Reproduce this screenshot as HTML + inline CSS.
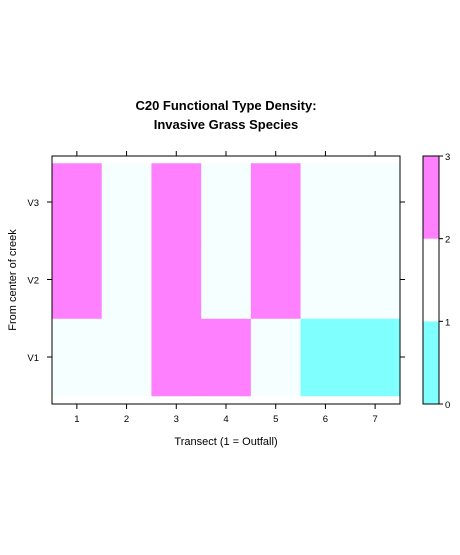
<!DOCTYPE html>
<html><head><meta charset="utf-8"><style>
body{margin:0;background:#fff;width:460px;height:550px;overflow:hidden}
text{font-family:"Liberation Sans",Arial,sans-serif}
</style></head><body>
<svg width="460" height="550">
<text x="226" y="110" text-anchor="middle" font-size="13" font-weight="bold">C20 Functional Type Density:</text>
<text x="226" y="129" text-anchor="middle" font-size="13" font-weight="bold">Invasive Grass Species</text>
<g id="cells"></g>
<g id="axes"></g>
<text x="226" y="445" text-anchor="middle" font-size="11">Transect (1 = Outfall)</text>
<text transform="translate(16,280) rotate(-90)" text-anchor="middle" font-size="11">From center of creek</text>
</svg>
<script>
const xCats=["1","2","3","4","5","6","7"];
const yCats=["V1","V2","V3"];
const rowV1=[1.5,1.5,2.5,2.5,1.5,0.5,0.5];
const rowV2=[2.5,1.5,2.5,1.5,2.5,1.5,1.5];
const rowV3=[2.5,1.5,2.5,1.5,2.5,1.5,1.5];
const keyBreaks=[0,1,2,3];
const keyColors=["#80FFFF","#FFFFFF","#FF80FF"];
const cellColors=["#80FFFF","#F5FFFF","#FF80FF"];
const rows=[rowV1,rowV2,rowV3];
const NS="http://www.w3.org/2000/svg";
const L=52,R=400,T=156,B=404;
const xs=i=>L+(i+1-0.5)/7*(R-L);
const ys=j=>357-j*77.5;
const cw=(R-L)/7, rh=77.5;
function mk(tag,attrs,parent){const e=document.createElementNS(NS,tag);for(const k in attrs)e.setAttribute(k,attrs[k]);parent.appendChild(e);return e;}
const cg=document.getElementById('cells'), ag=document.getElementById('axes');
function colorFor(v){for(let k=0;k<keyBreaks.length-1;k++){if(v>=keyBreaks[k]&&v<keyBreaks[k+1])return cellColors[k];}return cellColors[cellColors.length-1];}
rows.forEach((row,j)=>row.forEach((v,i)=>{
 const r=mk('rect',{x:xs(i)-cw/2,y:ys(j)-rh/2,width:cw+0.5,height:rh+0.5,fill:colorFor(v)},cg);
 
 
}));
const frame=mk('rect',{x:L,y:T,width:R-L,height:B-T,fill:'none',stroke:'#000','stroke-width':1},ag);


xCats.forEach((c,i)=>{
 const x=xs(i);
 mk('line',{x1:x,y1:B,x2:x,y2:B+5,stroke:'#000'},ag);
 mk('line',{x1:x,y1:T,x2:x,y2:T-5,stroke:'#000'},ag);
 const t=mk('text',{x:x,y:B+18,'text-anchor':'middle','font-size':9.5},ag);t.textContent=c;
 
 
});
yCats.forEach((c,j)=>{
 const y=ys(j);
 mk('line',{x1:L,y1:y,x2:L-5,y2:y,stroke:'#000'},ag);
 mk('line',{x1:R,y1:y,x2:R+5,y2:y,stroke:'#000'},ag);
 const t=mk('text',{x:L-13,y:y+4,'text-anchor':'end','font-size':9.5},ag);t.textContent=c;
 
 
});
const KL=423,KR=439,KT=156,KB=404;
const ky=v=>KB-(v-keyBreaks[0])/(keyBreaks[keyBreaks.length-1]-keyBreaks[0])*(KB-KT);
keyColors.forEach((col,k)=>{
 const r=mk('rect',{x:KL,y:ky(keyBreaks[k+1]),width:KR-KL,height:ky(keyBreaks[k])-ky(keyBreaks[k+1]),fill:col},ag);
 
 
});
const kf=mk('rect',{x:KL,y:KT,width:KR-KL,height:KB-KT,fill:'none',stroke:'#000'},ag);


keyBreaks.forEach(b=>{
 const y=ky(b);
 mk('line',{x1:KR,y1:y,x2:KR+4,y2:y,stroke:'#000'},ag);
 const t=mk('text',{x:KR+6,y:y+4,'font-size':9.5},ag);t.textContent=b;
 
 
});
</script>
</body></html>
